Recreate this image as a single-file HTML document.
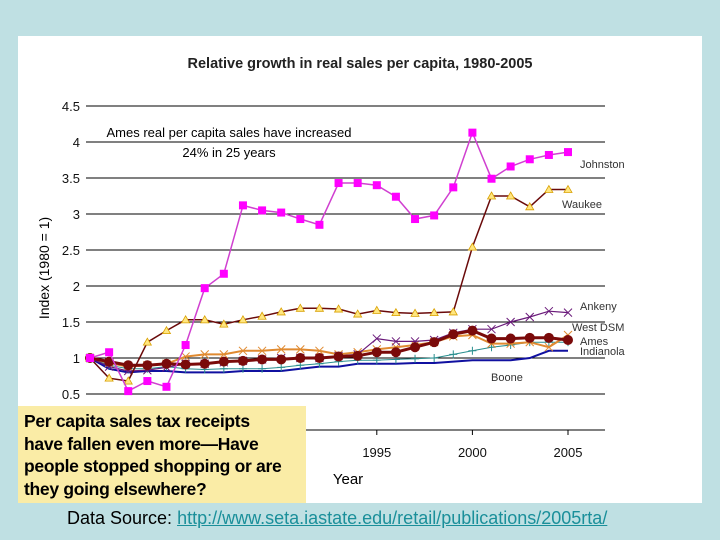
<!DOCTYPE html>
<html><head><meta charset="utf-8"><style>
body{margin:0;width:720px;height:540px;background:#bfe0e3;font-family:"Liberation Sans",sans-serif;overflow:hidden;position:relative}
#panel{position:absolute;left:18px;top:36px;width:684px;height:467px;background:#fff}
#note{position:absolute;left:18px;top:406px;width:288px;height:97px;background:#faeca6;font-weight:bold;font-size:17.5px;line-height:22.5px;padding:4px 0 0 6px;box-sizing:border-box;color:#000;white-space:nowrap;letter-spacing:-0.3px;overflow:hidden}
#src{position:absolute;left:67px;top:508px;font-size:18px;color:#000}
#src a{color:#1a8f9a;text-decoration:underline}
</style></head><body>
<div id="panel"></div>
<svg id="chart" width="720" height="540" style="position:absolute;left:0;top:0" font-family="Liberation Sans, sans-serif"></svg>
<div id="note">Per capita sales tax receipts<br>have fallen even more—Have<br>people stopped shopping or are<br>they going elsewhere?</div>
<div id="src">Data Source: <a>http://www.seta.iastate.edu/retail/publications/2005rta/</a></div>
<script>
const years=[1980,1981,1982,1983,1984,1985,1986,1987,1988,1989,1990,1991,1992,1993,1994,1995,1996,1997,1998,1999,2000,2001,2002,2003,2004,2005];
const yTicks=[0.5,1,1.5,2,2.5,3,3.5,4,4.5];
const xTickLabels=[1995,2000,2005];
const johnston=[1.0,1.08,0.54,0.68,0.6,1.18,1.97,2.17,3.12,3.05,3.02,2.93,2.85,3.43,3.43,3.4,3.24,2.93,2.98,3.37,4.13,3.49,3.66,3.76,3.82,3.86];
const waukee=[1.0,0.72,0.68,1.22,1.38,1.53,1.53,1.47,1.53,1.58,1.64,1.69,1.69,1.68,1.61,1.66,1.63,1.62,1.63,1.64,2.54,3.25,3.25,3.1,3.34,3.34];
const ankeny=[1.0,0.88,0.82,0.83,0.87,0.92,0.92,0.94,0.96,0.98,1.0,1.0,1.0,1.03,1.05,1.27,1.23,1.23,1.25,1.35,1.4,1.4,1.5,1.57,1.65,1.63];
const ames=[1.0,0.95,0.9,0.9,0.92,0.91,0.92,0.95,0.96,0.98,0.98,1.0,1.0,1.02,1.03,1.08,1.08,1.15,1.22,1.33,1.38,1.27,1.27,1.28,1.28,1.25];
const westDsm=[1.0,0.93,0.88,0.9,0.92,1.02,1.05,1.05,1.1,1.1,1.12,1.12,1.1,1.05,1.08,1.12,1.15,1.18,1.22,1.3,1.32,1.2,1.2,1.22,1.15,1.32];
const indianola=[1.0,0.9,0.85,0.85,0.88,0.85,0.84,0.85,0.85,0.85,0.87,0.9,0.92,0.95,0.97,0.97,0.98,0.99,1.0,1.05,1.1,1.15,1.18,1.22,1.22,1.22];
const boone=[1.0,0.85,0.8,0.82,0.82,0.8,0.8,0.8,0.82,0.82,0.82,0.85,0.88,0.88,0.92,0.92,0.92,0.93,0.93,0.95,0.97,0.97,0.97,1.0,1.1,1.1];
const seriesNames=["Johnston","Waukee","Ankeny","West DSM","Ames","Indianola","Boone"];

const NS="http://www.w3.org/2000/svg";
const svg=document.getElementById('chart');
const X=y=>90+(y-1980)*(478/25);
const Y=v=>358-(v-1)*72;
function el(t,a,p){const e=document.createElementNS(NS,t);for(const k in a)e.setAttribute(k,a[k]);(p||svg).appendChild(e);return e;}
function txt(x,y,s,a){const e=el('text',Object.assign({x:x,y:y},a));e.textContent=s;return e;}

const t=txt(360,68,"Relative growth in real sales per capita, 1980-2005",{'font-size':14.5,'font-weight':'bold','text-anchor':'middle',fill:'#222'});

yTicks.forEach(v=>{
 const g=el('line',{x1:86,x2:605,y1:Y(v),y2:Y(v),stroke:'#000','stroke-width':1});
 
 const l=txt(80,Y(v)+5,String(v),{'font-size':13,'text-anchor':'end',fill:'#111'});
 
});
const ax=el('line',{x1:86,x2:605,y1:Y(0),y2:Y(0),stroke:'#000','stroke-width':1});

xTickLabels.forEach(yr=>{
 el('line',{x1:X(yr),x2:X(yr),y1:Y(0),y2:Y(0)+5,stroke:'#000'});
 const l=txt(X(yr),457,String(yr),{'font-size':13,'text-anchor':'middle',fill:'#111'});
 
});
const xt=txt(348,484,"Year",{'font-size':15,'text-anchor':'middle'});

const yt=txt(0,0,"Index (1980 = 1)",{'font-size':14,'text-anchor':'middle',transform:'translate(49,268) rotate(-90)'});

const a1=txt(229,137,"Ames real per capita sales have increased",{'font-size':13,'text-anchor':'middle'});

const a2=txt(229,157,"24% in 25 years",{'font-size':13,'text-anchor':'middle'});


function path(data,color,w){const d=data.map((v,i)=>(i?'L':'M')+X(years[i]).toFixed(1)+' '+Y(v).toFixed(1)).join(' ');return el('path',{d:d,fill:'none',stroke:color,'stroke-width':w});}
function series(name,data,color,w,marker){
 const g=el('g',{});
 
 
 const p=path(data,color,w);g.appendChild(p);
 data.forEach((v,i)=>{const x=X(years[i]),y=Y(v);let m;
  if(marker==='sq')m=el('rect',{x:x-4,y:y-4,width:8,height:8,fill:'#f0f'},g);
  else if(marker==='tri')m=el('path',{d:`M${x} ${y-4}L${x+4} ${y+3}L${x-4} ${y+3}Z`,fill:'#ffe680',stroke:'#d9a000','stroke-width':0.8},g);
  else if(marker==='circ')m=el('circle',{cx:x,cy:y,r:5,fill:'#7a0a0a'},g);
  else if(marker==='x')m=el('path',{d:`M${x-4} ${y-4}L${x+4} ${y+4}M${x+4} ${y-4}L${x-4} ${y+4}`,stroke:color,'stroke-width':1},g);
  else if(marker==='plus')m=el('path',{d:`M${x-4} ${y}L${x+4} ${y}M${x} ${y-4}L${x} ${y+4}`,stroke:color,'stroke-width':1},g);
  if(m){}
 });
}
series('boone',boone,'#1010a0',2,null);
series('indianola',indianola,'#2a8f8f',1,'plus');
series('west-dsm',westDsm,'#e08a30',2,'x');
series('ankeny',ankeny,'#6a1a7a',1.2,'x');
series('ames',ames,'#7a0a0a',3,'circ');
series('waukee',waukee,'#6a0a0a',1.5,'tri');
series('johnston',johnston,'#d040d0',1.5,'sq');

const labels=[["Johnston",580,168],["Waukee",562,208],["Ankeny",580,310],["West DSM",572,331],["Ames",580,345],["Indianola",580,355],["Boone",491,381]];
labels.forEach(l=>{const e=txt(l[1],l[2],l[0],{'font-size':11,fill:'#333'});
 });
</script>
</body></html>
